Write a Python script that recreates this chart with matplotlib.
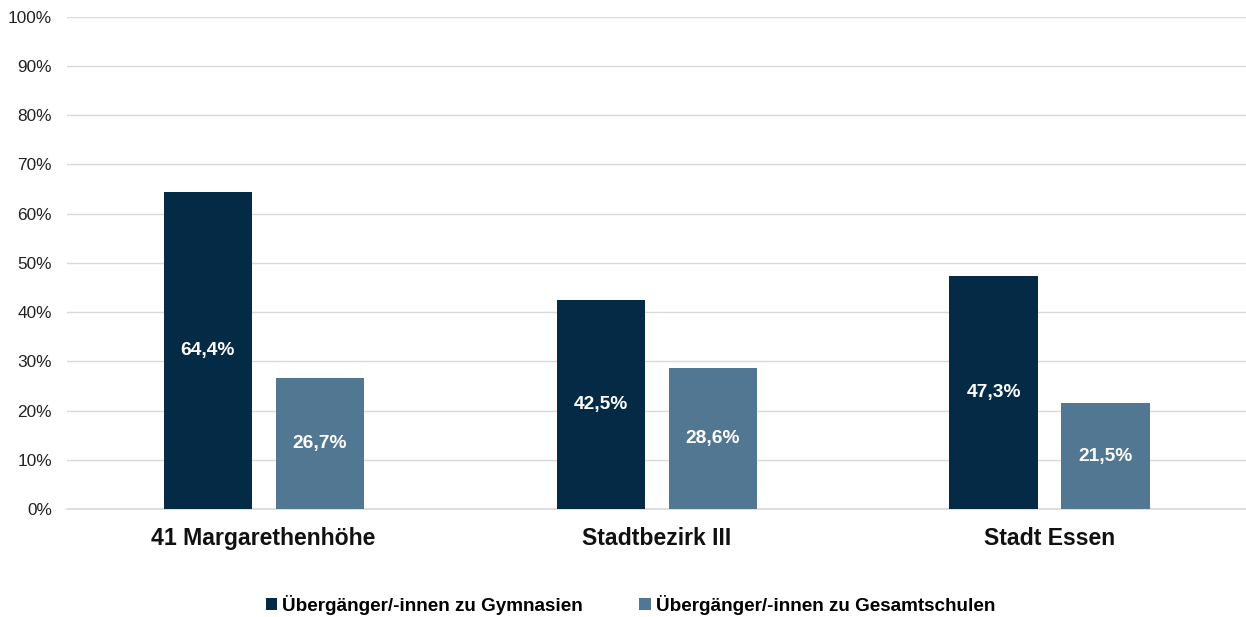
import matplotlib
matplotlib.use("Agg")
import matplotlib.pyplot as plt
import numpy as np

categories = ["41 Margarethenhöhe", "Stadtbezirk III", "Stadt Essen"]
gymnasien = [64.4, 42.5, 47.3]
gesamtschulen = [26.7, 28.6, 21.5]
series_names = ["Übergänger/-innen zu Gymnasien", "Übergänger/-innen zu Gesamtschulen"]
yticks = [0, 10, 20, 30, 40, 50, 60, 70, 80, 90, 100]

c_dark = "#052A46"
c_light = "#527793"

plt.rcParams['font.family'] = ['Liberation Sans', 'DejaVu Sans']

fig = plt.figure(figsize=(12.46, 6.17), dpi=100)
ax = fig.add_axes([0.0538, 0.175, 0.9462, 0.798])

x = np.arange(len(categories))
w = 0.224
off = (w + 0.061) / 2
b1 = ax.bar(x - off, gymnasien, w, color=c_dark, label=series_names[0], zorder=3)
b2 = ax.bar(x + off, gesamtschulen, w, color=c_light, label=series_names[1], zorder=3)

for bars, vals in ((b1, gymnasien), (b2, gesamtschulen)):
    for r, v in zip(bars, vals):
        ax.text(r.get_x() + r.get_width() / 2, v / 2, f"{v:.1f}%".replace(".", ","),
                ha="center", va="center", color="white", fontsize=13.8, fontweight="bold", zorder=4)

ax.set_xlim(-0.5, len(categories) - 0.5)
ax.set_ylim(0, 100)
ax.set_yticks(yticks)
ax.set_yticklabels([f"{t}%" for t in yticks], fontsize=12.4, color="#222222")
ax.set_xticks(x)
ax.set_xticklabels(categories, fontsize=16.6, fontweight="bold", color="#111111")
ax.tick_params(axis="both", length=0)
ax.tick_params(axis="y", pad=10.8)
ax.tick_params(axis="x", pad=13)
ax.grid(axis="y", color="#D9D9D9", linewidth=1, zorder=0)
ax.axhline(0, color="#D9D9D9", linewidth=1.2, zorder=1, clip_on=False)
for s in ax.spines.values():
    s.set_visible(False)

leg = fig.legend(handles=[b1, b2], labels=series_names, loc="center", bbox_to_anchor=(0.506, 0.02),
                 ncol=2, frameon=False, prop={"size": 13.6, "weight": "bold"},
                 handlelength=0.6, handleheight=0.6, handletextpad=0.25, columnspacing=3.0)

fig.savefig("out.png", dpi=100, facecolor="white")
